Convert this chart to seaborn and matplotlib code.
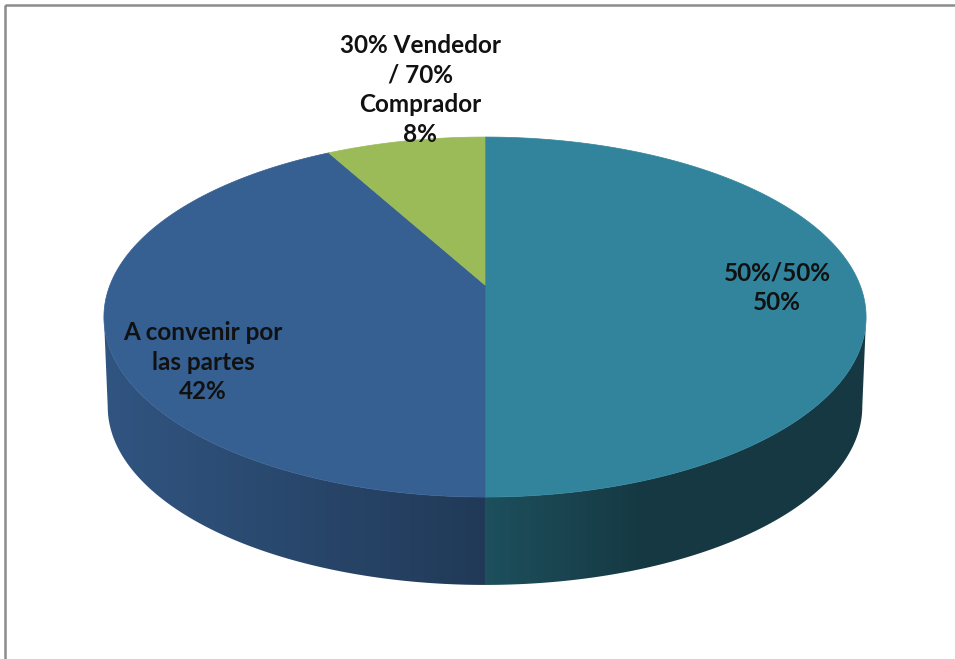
import numpy as np
import matplotlib
matplotlib.use("Agg")
import matplotlib.pyplot as plt
import seaborn as sns
from matplotlib.patches import Polygon, Rectangle

# chart data
labels = ["50%/50%", "A convenir por\nlas partes", "30% Vendedor\n/ 70%\nComprador"]
values = [50, 42, 8]
top_colors = ["#31849B", "#376092", "#9BBB59"]

# label positions (pixels) for each slice
label_pos = [(777, 288), (203, 362), (420, 90)]

sns.set_theme(style="white")
plt.rcParams["font.family"] = ["Lato", "DejaVu Sans"]

W, H = 955, 659
fig = plt.figure(figsize=(W / 100, H / 100), dpi=100)
ax = fig.add_axes([0, 0, 1, 1])

# perspective ellipse geometry (screen pixels)
cx, cy = 485, 285
a, b, k = 375, 174.3, 0.178
depth, shrink = 90, 0.99


def project(theta, r=1.0, bottom=False):
    # theta in degrees, clockwise from top
    t = np.radians(theta)
    u = r * np.sin(t)
    v = -r * np.cos(t)
    w = 1 - k * v
    s = shrink if bottom else 1.0
    x = cx + s * a * u / w
    y = cy + s * b * v / w + (depth if bottom else 0)
    return x, y


def shade(u):
    # lighting from the left: lighter on the left, dark on the right
    return np.where(u < 0, 0.60 - 0.28 * u, np.maximum(0.60 - 0.40 * u, 0.43))


fracs = np.array(values) / sum(values)
edges = np.concatenate([[0], np.cumsum(fracs) * 360])

# visible part of the side: between the two silhouette points
sil = np.degrees(np.arccos(-k))
vis_lo, vis_hi = sil, 360 - sil

xs_px = np.linspace(0, W, W)
grad = shade((xs_px - cx) / a)

# side walls with a horizontal light gradient
for i in range(len(values)):
    t0, t1 = max(edges[i], vis_lo), min(edges[i + 1], vis_hi)
    if t1 <= t0:
        continue
    th = np.linspace(t0, t1, 300)
    tx, ty = project(th)
    bx, by = project(th[::-1], bottom=True)
    pts = list(zip(tx, ty)) + list(zip(bx, by))
    clip = Polygon(pts, closed=True, facecolor="none", edgecolor="none")
    ax.add_patch(clip)
    base = np.array(matplotlib.colors.to_rgb(top_colors[i]))
    img = np.clip(grad[None, :, None] * base[None, None, :], 0, 1)
    img = np.repeat(img, 2, axis=0)
    im = ax.imshow(img, extent=(0, W, H, 0), aspect="auto", interpolation="bilinear")
    im.set_clip_path(clip)

# top face
for i in range(len(values)):
    th = np.linspace(edges[i], edges[i + 1], 200)
    px, py = project(th)
    pts = [(cx, cy)] + list(zip(px, py))
    ax.add_patch(Polygon(pts, closed=True, facecolor=top_colors[i],
                         edgecolor=top_colors[i], lw=0.5))

# data labels
for lab, val, (lx, ly) in zip(labels, values, label_pos):
    ax.text(lx, ly, f"{lab}\n{val}%", ha="center", va="center",
            fontsize=17.5, fontweight="bold", color="#111111", linespacing=1.36)

# chart frame
ax.add_patch(Rectangle((5, 5), 960, 670, fill=False, edgecolor="#8C8C8C", lw=1.8))

ax.set_xlim(0, W)
ax.set_ylim(H, 0)
ax.axis("off")

fig.savefig("out.png", dpi=100)
